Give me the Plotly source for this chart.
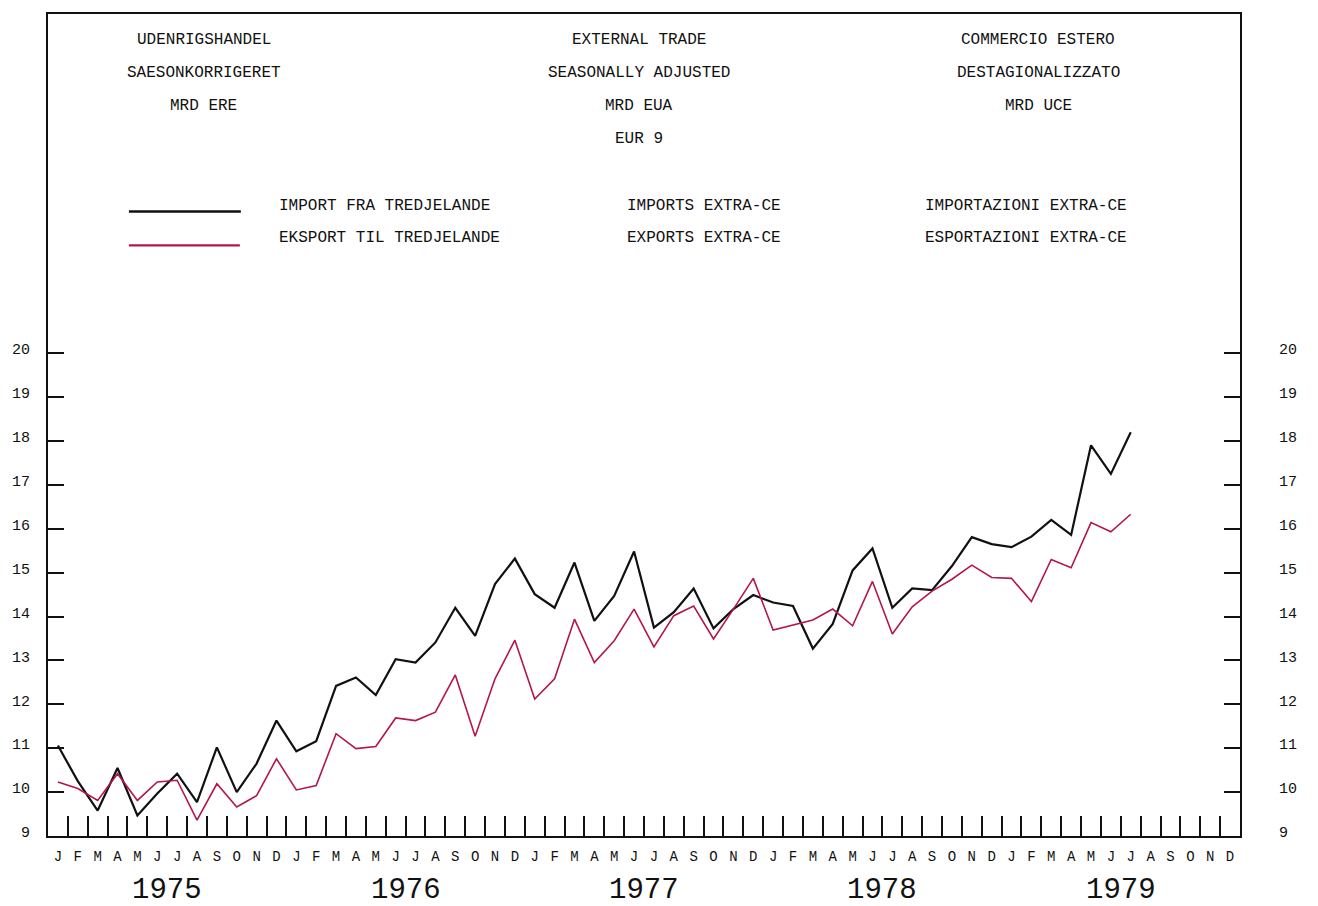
import plotly.graph_objects as go

# Monthly data, Jan 1975 - Jul 1979 (Mrd EUA, seasonally adjusted)
imports = [11.06, 10.25, 9.58, 10.55, 9.47, 9.97, 10.42, 9.77, 11.02, 10.0, 10.65, 11.63,
           10.93, 11.16, 12.42, 12.61, 12.21, 13.03, 12.95, 13.41, 14.2, 13.56, 14.74, 15.32,
           14.51, 14.2, 15.23, 13.9, 14.47, 15.48, 13.75, 14.1, 14.64, 13.73, 14.17, 14.49,
           14.32, 14.24, 13.27, 13.83, 15.05, 15.55, 14.2, 14.64, 14.6, 15.15, 15.81, 15.65,
           15.58, 15.82, 16.2, 15.86, 17.9, 17.25, 18.2]
exports = [10.23, 10.08, 9.81, 10.42, 9.81, 10.23, 10.27, 9.36, 10.19, 9.66, 9.92, 10.76,
           10.05, 10.15, 11.33, 10.99, 11.04, 11.69, 11.63, 11.82, 12.67, 11.27, 12.58, 13.46,
           12.12, 12.58, 13.94, 12.95, 13.45, 14.17, 13.31, 14.02, 14.24, 13.49, 14.17, 14.87,
           13.69, 13.8, 13.92, 14.17, 13.79, 14.8, 13.6, 14.22, 14.58, 14.85, 15.17, 14.89,
           14.87, 14.34, 15.3, 15.11, 16.14, 15.93, 16.33]

month_letters = ["J", "F", "M", "A", "M", "J", "J", "A", "S", "O", "N", "D"]
years = ["1975", "1976", "1977", "1978", "1979"]
y_ticks = list(range(9, 21))

title_left = ["UDENRIGSHANDEL", "SAESONKORRIGERET", "MRD ERE"]
title_mid = ["EXTERNAL TRADE", "SEASONALLY ADJUSTED", "MRD EUA", "EUR 9"]
title_right = ["COMMERCIO ESTERO", "DESTAGIONALIZZATO", "MRD UCE"]
legend_import = ["IMPORT FRA TREDJELANDE", "IMPORTS EXTRA-CE", "IMPORTAZIONI EXTRA-CE"]
legend_export = ["EKSPORT TIL TREDJELANDE", "EXPORTS EXTRA-CE", "ESPORTAZIONI EXTRA-CE"]

RED = "#b3174a"
FONT = "Liberation Mono"
TXT = "#111111"

# page offset of 8px (body margin) is taken off the figure size / margins
W, H = 1310, 898
PLOT_L, PLOT_T, PLOT_W, PLOT_H = 47, 12, 1193, 824   # plot area in page pixels
L, T = PLOT_L - 8, PLOT_T - 8
R = W - L - PLOT_W
B = H - T - PLOT_H
n_months = len(years) * 12
y_top = 9 + PLOT_H / 44.0  # 44 px per unit


def px(x):
    return (x - PLOT_L) / PLOT_W


def py(y):
    return (PLOT_T + PLOT_H - y) / PLOT_H


months = list(range(len(imports)))

fig = go.Figure()
fig.add_trace(go.Scatter(x=months, y=imports, mode="lines",
                         line=dict(color="#111111", width=2.2), showlegend=False))
fig.add_trace(go.Scatter(x=months, y=exports, mode="lines",
                         line=dict(color=RED, width=1.6), showlegend=False))
# invisible trace so the second x axis / right y axis get drawn
fig.add_trace(go.Scatter(x=[0], y=[9], xaxis="x2", yaxis="y2", mode="markers",
                         marker=dict(opacity=0), showlegend=False, hoverinfo="skip"))

annotations = []
col_x = [203, 638, 1038]
for col, lines in zip(col_x, [title_left, title_mid, title_right]):
    for k, txt in enumerate(lines):
        annotations.append(dict(x=px(col), y=py(38 + 33 * k), xref="paper", yref="paper",
                                text=txt, showarrow=False, xanchor="center", yanchor="middle",
                                font=dict(family=FONT, size=16, color=TXT)))

leg_x = [276, 624, 923]
for lx, t_imp, t_exp in zip(leg_x, legend_import, legend_export):
    annotations.append(dict(x=px(lx), y=py(204), xref="paper", yref="paper", text=t_imp,
                            showarrow=False, xanchor="left", yanchor="middle",
                            font=dict(family=FONT, size=16, color=TXT)))
    annotations.append(dict(x=px(lx), y=py(237), xref="paper", yref="paper", text=t_exp,
                            showarrow=False, xanchor="left", yanchor="middle",
                            font=dict(family=FONT, size=16, color=TXT)))

for k, yr in enumerate(years):
    annotations.append(dict(x=12 * k + 5.5, y=py(891), xref="x", yref="paper", text=yr,
                            showarrow=False, xanchor="center", yanchor="middle",
                            font=dict(family=FONT, size=29, color=TXT)))

shapes = [
    dict(type="line", xref="paper", yref="paper", x0=px(128), x1=px(240),
         y0=py(210), y1=py(210), line=dict(color="#111111", width=2.4)),
    dict(type="line", xref="paper", yref="paper", x0=px(128), x1=px(239),
         y0=py(244), y1=py(244), line=dict(color=RED, width=2.2)),
]

fig.update_layout(
    width=W, height=H,
    margin=dict(l=L, r=R, t=T, b=B),
    paper_bgcolor="white", plot_bgcolor="white",
    annotations=annotations, shapes=shapes,
    xaxis=dict(range=[-0.5, n_months - 0.5], tickvals=[i - 0.5 for i in range(n_months + 1)],
               showticklabels=False, ticks="inside", ticklen=20, tickwidth=1.5, tickcolor="#111",
               showline=True, linewidth=2, linecolor="#111", mirror=True,
               showgrid=False, zeroline=False),
    xaxis2=dict(range=[-0.5, n_months - 0.5], overlaying="x", side="bottom", anchor="y",
                tickvals=list(range(n_months)), ticktext=month_letters * len(years),
                ticks="", showline=False, showgrid=False, zeroline=False,
                ticklabelstandoff=10, tickfont=dict(family=FONT, size=14, color=TXT)),
    yaxis=dict(range=[9, y_top], tickvals=y_ticks, ticks="inside", ticklen=16, tickwidth=1.5,
               tickcolor="#111", showline=True, linewidth=2, linecolor="#111", mirror=True,
               showgrid=False, zeroline=False, ticklabelstandoff=13, ticklabelshift=-4,
               tickfont=dict(family=FONT, size=15, color=TXT)),
    yaxis2=dict(range=[9, y_top], overlaying="y", side="right", anchor="x",
                tickvals=y_ticks, ticks="inside", ticklen=16, tickwidth=1.5, tickcolor="#111",
                showline=False, showgrid=False, zeroline=False, ticklabelstandoff=38,
                ticklabelshift=-4, tickfont=dict(family=FONT, size=15, color=TXT)),
)

fig.write_html("out.html")
